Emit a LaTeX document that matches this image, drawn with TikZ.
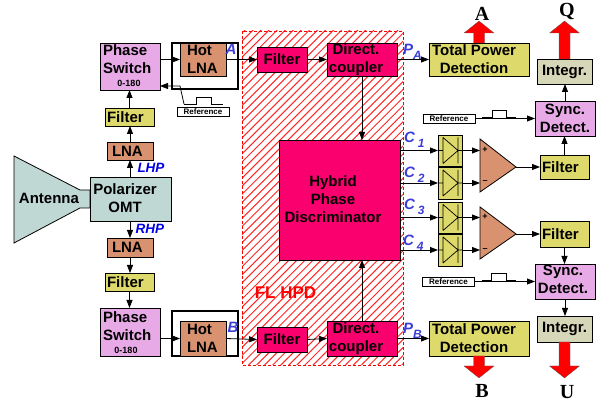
\documentclass[tikz,border=0pt]{standalone}
\usepackage{fontspec}
\setmainfont{Liberation Sans}
\newfontfamily\serifcap{Liberation Serif}
\usetikzlibrary{arrows.meta,patterns.meta}

\definecolor{phasepink}{RGB}{232,170,230}
\definecolor{lnaorange}{RGB}{217,146,112}
\definecolor{filtyellow}{RGB}{221,217,107}
\definecolor{omtgreen}{RGB}{192,216,212}
\definecolor{hpdpink}{RGB}{250,0,110}
\definecolor{intgrey}{RGB}{214,214,184}
\definecolor{siglblue}{RGB}{60,60,215}

\tikzset{
  mainfont/.style={font=\fontsize{15}{18}\selectfont\bfseries},
  blk/.style={draw=black,line width=0.8pt,mainfont,align=center},
  phasebox/.style={blk,fill=phasepink},
  lnabox/.style={blk,fill=lnaorange,align=left},
  filtbox/.style={blk,fill=filtyellow,minimum width=49,text width=45,align=left},
  hpdbox/.style={blk,fill=hpdpink},
  detbox/.style={blk,fill=filtyellow,minimum width=24,
    path picture={\draw[line width=0.7pt]
      (path picture bounding box.center) ++(-7,-13) -- ++(0,26)
      (path picture bounding box.center) ++(8,-13) -- ++(0,26)
      (path picture bounding box.center) ++(-7,-13) -- ++(15,13) -- ++(-15,13)
      (path picture bounding box.center) ++(-12,0) -- ++(5,0)
      (path picture bounding box.center) ++(8,0) -- ++(4,0);}},
  hotframe/.style={draw=black,line width=1.6pt},
  refbox/.style={draw=black,fill=white,line width=0.6pt,minimum width=52,minimum height=9,
    font=\fontsize{8}{8}\selectfont\bfseries},
  boxtxt/.style={mainfont,align=center},
  smalltxt/.style={font=\fontsize{9}{9}\selectfont\bfseries},
  sigtxt/.style={text=siglblue,font=\fontsize{15}{15}\selectfont\bfseries\itshape},
  hptxt/.style={text=blue!90!black,font=\fontsize{13.5}{14}\selectfont\bfseries\itshape},
  captxt/.style={font=\fontsize{20}{20}\selectfont\bfseries\serifcap},
  conn/.style={draw=black,line width=0.8pt,-{Triangle[length=8pt,width=6pt]}},
  plainline/.style={draw=black,line width=0.8pt},
  redarrow/.style={draw=black!60,line width=0.3pt,fill=red}
}
\newcommand{\bigarrow}[3]{%
  \path[redarrow] (#1) ++(-5.5,0) -- ++(0,#3*#2) -- ++(-9.5,0) -- ++(15,#3*12)
    -- ++(15,-#3*12) -- ++(-9.5,0) -- ++(0,-#3*#2) -- cycle;}
\newcommand{\subnum}[1]{\raisebox{-5pt}{\fontsize{12}{12}\selectfont #1}}

\begin{document}
\begin{tikzpicture}[y=1pt, x=1pt, yscale=-1, inner sep=0pt, outer sep=0pt]
  \useasboundingbox (0,0) rectangle (608,403);
  % FL HPD area
  \path[pattern={Lines[angle=45,distance=5.7pt,line width=1pt,xshift=1pt]},pattern color=red!85]
    (242,31) rectangle (403,365);
  \draw[red,densely dashed,line width=0.8pt] (242,31) rectangle (403,365);
  \node[text=red,font=\fontsize{17}{18}\selectfont\bfseries] (hpdlabel) at (285.5,293) {FL HPD};

  % antenna and polarizer
  \path[draw=black,fill=omtgreen,line width=0.8pt] (14,156) -- (80,190) -- (90,190)
    -- (90,208) -- (80,208) -- (14,243) -- cycle;
  \node[boxtxt] (anttxt) at (49,198) {Antenna};
  \node[blk,fill=omtgreen,minimum width=81,minimum height=44] (omt) at (130.5,199) {};
  \node[boxtxt] (omttxt) at (125,198.5) {Polarizer\\OMT};

  % upper chain
  \node[lnabox,minimum width=46,minimum height=18,text width=36] (lnaL) at (130,151) {LNA};
  \node[filtbox,minimum height=18] (filtL) at (129.5,117) {Filter};
  \node[phasebox,minimum width=60,minimum height=47] (psA) at (130,66.5) {};
  \node[boxtxt,align=left,anchor=west] (psAtxt) at (103,59) {Phase\\Switch};
  \node[smalltxt] (psAdeg) at (129,83) {0-180};
  \node[hotframe,minimum width=66,minimum height=46] (frameA) at (205,66) {};
  \node[lnabox,minimum width=46,minimum height=33,text width=32] (hotA) at (203,59.5) {Hot\\LNA};
  \node[refbox] (refA) at (203,111.5) {Reference};
  \coordinate (refbendA) at (180,86);
  \coordinate (pulseA) at (184,104);
  \draw[plainline] (pulseA) -- ++(12,0) -- ++(0,-7) -- ++(15,0) -- ++(0,7) -- ++(12,0);
  \draw[conn] (pulseA) -- (refbendA) -- (refbendA -| psA.east);
  \draw[conn] (omt.north -| lnaL.south) -- (lnaL.south);
  \draw[conn] (lnaL.north) -- (filtL.south -| lnaL.north);
  \draw[conn] (filtL.north) -- (psA.south -| filtL.north);
  \draw[conn] (psA.east |- hotA.west) -- (hotA.west);

  % lower chain
  \node[lnabox,minimum width=46,minimum height=19,text width=36] (lnaR) at (130,247.5) {LNA};
  \node[filtbox,minimum height=18] (filtR) at (129.5,282) {Filter};
  \node[phasebox,minimum width=60,minimum height=48] (psB) at (130,332) {};
  \node[boxtxt,align=left,anchor=west] (psBtxt) at (103,326) {Phase\\Switch};
  \node[smalltxt] (psBdeg) at (126,350) {0-180};
  \node[hotframe,minimum width=66,minimum height=45] (frameB) at (205,333.5) {};
  \node[lnabox,minimum width=46,minimum height=35,text width=32] (hotB) at (203,338.5) {Hot\\LNA};
  \draw[conn] (omt.south -| lnaR.north) -- (lnaR.north);
  \draw[conn] (lnaR.south) -- (filtR.north -| lnaR.south);
  \draw[conn] (filtR.south) -- (psB.north -| filtR.south);
  \draw[conn] (psB.east |- hotB.west) -- (hotB.west);

  % HPD blocks
  \node[filtbox,hpdbox,minimum width=50,minimum height=25,text width=46] (filtA) at (282,59.5) {Filter};
  \node[hpdbox,minimum width=70,minimum height=33] (dirA) at (362,59.5) {};
  \node[boxtxt] (dirAtxt) at (356,59.5) {Direct.\\coupler};
  \node[filtbox,hpdbox,minimum width=50,minimum height=25,text width=46] (filtB) at (282,339.5) {Filter};
  \node[hpdbox,minimum width=70,minimum height=35] (dirB) at (362,338.5) {};
  \node[boxtxt] (dirBtxt) at (356,338.5) {Direct.\\coupler};
  \node[hpdbox,minimum width=121,minimum height=120] (hyb) at (339.5,200) {};
  \node[boxtxt] (hybtxt) at (333,199.5) {Hybrid\\Phase\\Discriminator};
  \draw[conn] (hotA.east) -- (filtA.west);
  \draw[conn] (hotB.east) -- (filtB.west);
  \draw[conn] (filtA.east) -- (dirA.west);
  \draw[conn] (filtB.east) -- (dirB.west);
  \draw[conn] (dirA.south) -- (hyb.north -| dirA.south);
  \draw[conn] (dirB.north) -- (hyb.south -| dirB.north);

  % total power
  \node[blk,fill=filtyellow,minimum width=100,minimum height=33] (totA) at (479,59.5) {};
  \node[boxtxt] (totAtxt) at (474,59.5) {Total Power\\Detection};
  \node[blk,fill=filtyellow,minimum width=100,minimum height=35] (totB) at (479,338.5) {};
  \node[boxtxt] (totBtxt) at (474,338.5) {Total Power\\Detection};
  \draw[conn] (dirA.east) -- (totA.west);
  \draw[conn] (dirB.east) -- (totB.west);

  % detectors
  \node[detbox,minimum height=31] (detA) at (450,150.5) {};
  \node[detbox,minimum height=32] (detB) at (450,183) {};
  \node[detbox,minimum height=31] (detC) at (450,217.5) {};
  \node[detbox,minimum height=32] (detD) at (450,250) {};
  \draw[conn] (hyb.east |- detA.west) -- (detA.west);
  \draw[conn] (hyb.east |- detB.west) -- (detB.west);
  \draw[conn] (hyb.east |- detC.west) -- (detC.west);
  \draw[conn] (hyb.east |- detD.west) -- (detD.west);

  % amplifiers
  \coordinate (ampU) at (516,167);
  \coordinate (ampL) at (516,234);
  \path[draw=black,fill=lnaorange,line width=0.8pt] (480,139) -- (ampU) -- (480,192) -- cycle;
  \path[draw=black,fill=lnaorange,line width=0.8pt] (480,207) -- (ampL) -- (480,259) -- cycle;
  \node[smalltxt] (plusU) at (485,149.5) {+};
  \node[smalltxt] (minusU) at (485,182) {--};
  \node[smalltxt] (plusL) at (485,217) {+};
  \node[smalltxt] (minusL) at (485,250) {--};
  \draw[conn] (detA.east) -- (480,150.5);
  \draw[conn] (detB.east) -- (480,183);
  \draw[conn] (detC.east) -- (480,217.5);
  \draw[conn] (detD.east) -- (480,250);

  % right column
  \node[filtbox,minimum height=24] (filtU) at (564.5,167) {Filter};
  \node[phasebox,minimum width=60,minimum height=35] (syncU) at (565,118.5) {Sync.\\Detect.};
  \node[blk,fill=intgrey,minimum width=55,minimum height=25] (intU) at (564.5,71.5) {Integr.};
  \node[filtbox,minimum height=26] (filtV) at (564.5,234) {Filter};
  \node[phasebox,minimum width=60,minimum height=35] (syncV) at (565,281.5) {};
  \node[boxtxt] (syncVtxt) at (563,279) {Sync.\\Detect.};
  \node[blk,fill=intgrey,minimum width=55,minimum height=26] (intV) at (564.5,329) {Integr.};
  \node[refbox] (refU) at (449,118.5) {Reference};
  \node[refbox] (refV) at (448.5,281.5) {Reference};
  \draw[plainline] (482,117) -- ++(10,0) -- ++(0,-7) -- ++(14,0) -- ++(0,7) -- ++(10,0);
  \draw[plainline] (482,280) -- ++(9,0) -- ++(0,-7) -- ++(15,0) -- ++(0,7) -- ++(10,0);
  \draw[conn] (ampU) -- (filtU.west);
  \draw[conn] (ampL) -- (filtV.west);
  \draw[conn] (filtU.north) -- (syncU.south -| filtU.north);
  \draw[conn] (syncU.north) -- (intU.south -| syncU.north);
  \draw[conn] (filtV.south) -- (syncV.north -| filtV.south);
  \draw[conn] (syncV.south) -- (intV.north -| syncV.south);
  \draw[conn] (refU.east) -- (syncU.west);
  \draw[conn] (refV.east) -- (syncV.west);

  % output arrows
  \bigarrow{totA.north}{10}{-1}
  \bigarrow{intU.north}{26}{-1}
  \bigarrow{totB.south}{10}{1}
  \bigarrow{intV.south}{24}{1}
  \node[captxt] (outA) at (482,14) {A};
  \node[captxt] (outQ) at (567,12) {Q};
  \node[captxt] (outB) at (482,391) {B};
  \node[captxt] (outU) at (567,392) {U};

  % signal names
  \node[hptxt] (lhp) at (151,168) {LHP};
  \node[hptxt] (rhp) at (150,229) {RHP};
  \node[sigtxt] (sigA) at (231,49) {A};
  \node[sigtxt] (sigB) at (233,327) {B};
  \node[sigtxt,anchor=base west] (sigPA) at (403,55) {P\subnum{A}};
  \node[sigtxt,anchor=base west] (sigPB) at (403,334) {P\subnum{B}};
  \node[sigtxt,anchor=base west] (sigCa) at (404,143) {C\hspace{3pt}\subnum{1}};
  \node[sigtxt,anchor=base west] (sigCb) at (404,178) {C\hspace{3pt}\subnum{2}};
  \node[sigtxt,anchor=base west] (sigCc) at (404,210) {C\hspace{3pt}\subnum{3}};
  \node[sigtxt,anchor=base west] (sigCd) at (403,246) {C\hspace{3pt}\subnum{4}};
\end{tikzpicture}
\end{document}
